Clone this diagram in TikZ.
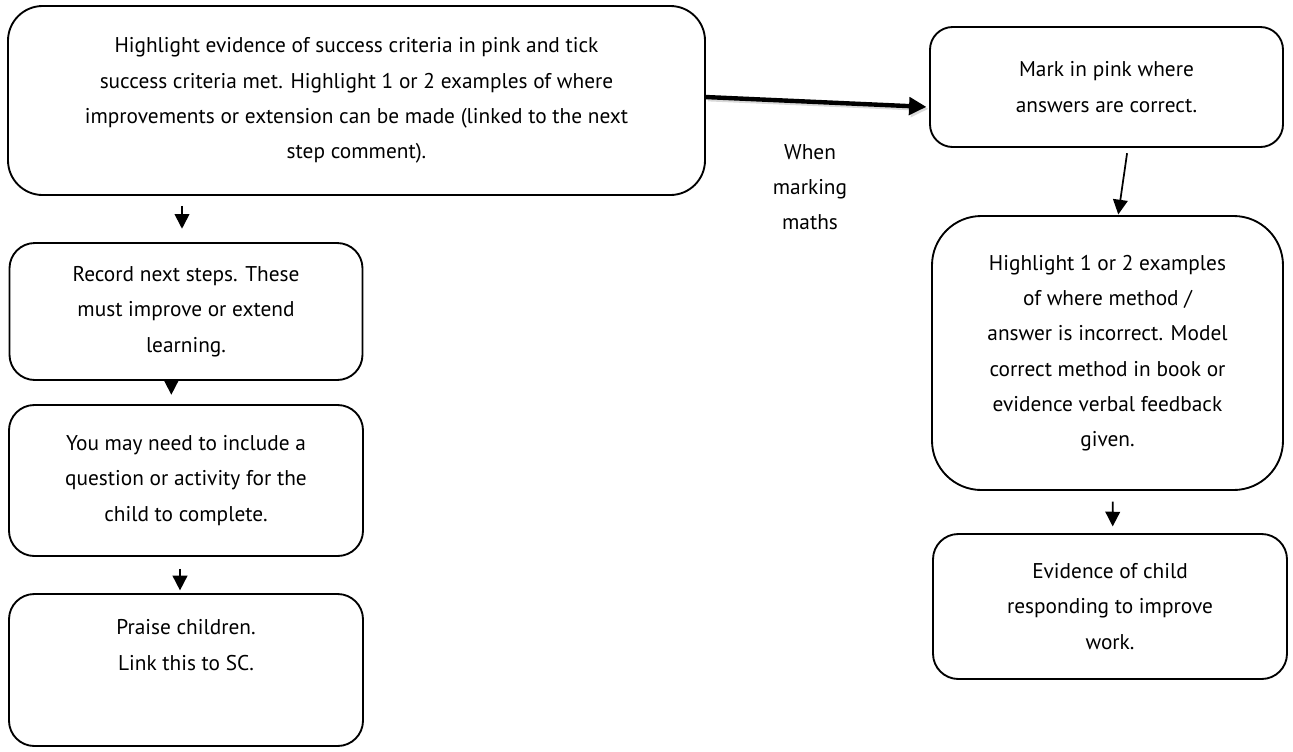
\documentclass[tikz,border=0pt]{standalone}
\usepackage{fontspec}
\setmainfont{PT Sans}
\usetikzlibrary{arrows.meta}
\begin{document}
\begin{tikzpicture}[x=0.75pt,y=-0.75pt,
  box/.style={draw=black, line width=1.4pt, rounded corners=#1, inner sep=0pt, align=center,
    font=\fontsize{16}{26.5}\selectfont},
  box/.default=19pt,
  txt/.style={align=center, font=\fontsize{16}{26.5}\selectfont, inner sep=0pt},
  arr/.style={line width=1.3pt, -{Triangle[length=11pt,width=11pt]}},
  bigarr/.style={line width=3.3pt, -{Triangle[length=13pt,width=13pt]}},
  shadowarr/.style={line width=3.3pt, draw=black!15, -{Triangle[length=13pt,width=13pt]}}
]
\useasboundingbox (0,0) rectangle (1293,751);

\node[box=26pt, minimum width=697*0.75pt, minimum height=189*0.75pt] (A) at (356.5,100.5)
  {Highlight evidence of success criteria in pink and tick\\
   success criteria met. Highlight 1 or 2 examples of where\\
   improvements or extension can be made (linked to the next\\
   step comment).};

\node[box, minimum width=353*0.75pt, minimum height=137*0.75pt] (B) at (186,311.5)
  {Record next steps. These\\ must improve or extend\\ learning.};

\node[box, minimum width=354*0.75pt, minimum height=151*0.75pt] (C) at (186,480.5)
  {You may need to include a\\ question or activity for the\\ child to complete.};

\node[box, minimum width=354*0.75pt, minimum height=152*0.75pt] (D) at (186,670) {};
\node[txt] (Dt) at (186,645) {Praise children.\\ Link this to SC.};

\node[box=17pt, minimum width=353*0.75pt, minimum height=120*0.75pt] (E) at (1106.5,87)
  {Mark in pink where\\ answers are correct.};

\node[box=37pt, minimum width=351*0.75pt, minimum height=274*0.75pt] (F) at (1107.5,353)
  {Highlight 1 or 2 examples\\ of where method /\\ answer is incorrect. Model\\
   correct method in book or\\ evidence verbal feedback\\ given.};

\node[box, minimum width=354*0.75pt, minimum height=145*0.75pt] (G) at (1110,606.5)
  {Evidence of child\\ responding to improve\\ work.};

\node[txt] (M) at (810,187) {When\\ marking\\ maths};

% connectors
\draw[arr, shorten <=7.5pt, shorten >=10pt] ([xshift=-3pt]A.south -| B.north) -- ([xshift=-3pt]B.north);
\draw[arr, shorten <=-6pt, shorten >=7pt] ([xshift=-11pt]B.south) -- ([xshift=-11pt]C.north);
\draw[arr, shorten <=9pt, shorten >=2pt] ([xshift=-4.5pt]C.south) -- ([xshift=-4.5pt]D.north);
\draw[arr, shorten <=4pt, shorten >=0.5pt] ([xshift=16pt]E.south) -- ([xshift=8pt]F.north);
\draw[arr, shorten <=8pt, shorten >=5pt] ([xshift=4pt]F.south) -- ([xshift=2pt]G.north);

\draw[shadowarr, shorten >=2pt] ([xshift=1.5pt,yshift=1pt]A.east) -- ([xshift=1.5pt,yshift=-16.5pt]E.west);
\draw[bigarr, shorten >=2pt] ([yshift=2.6pt]A.east) -- ([yshift=-15pt]E.west);
\end{tikzpicture}
\end{document}
